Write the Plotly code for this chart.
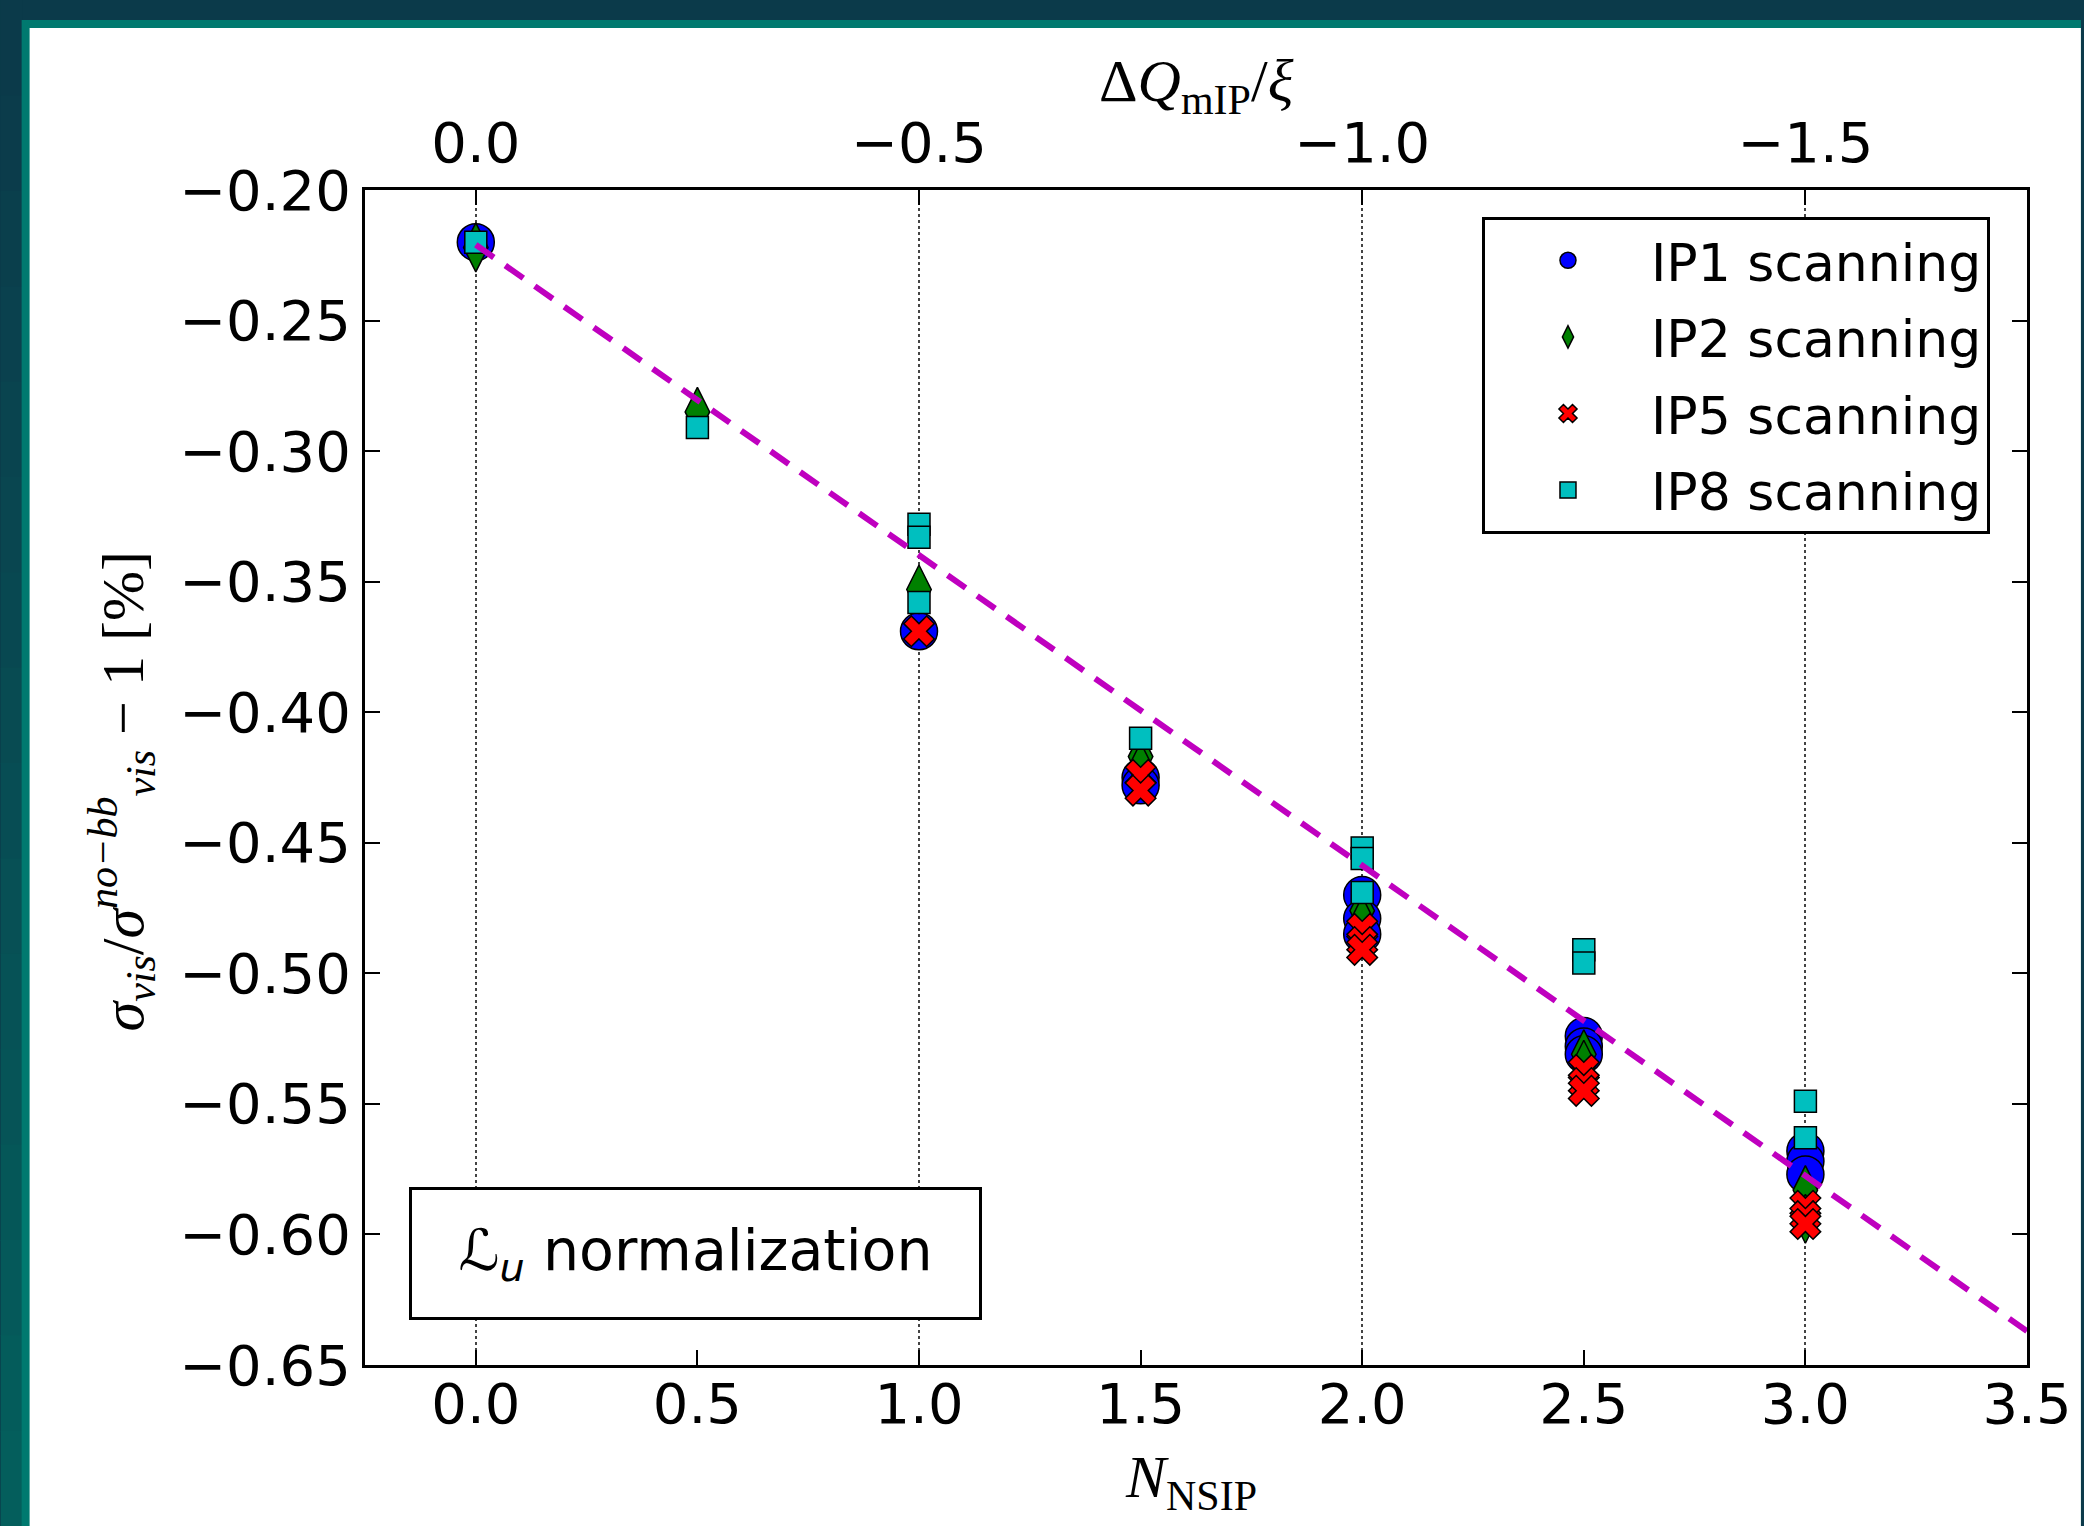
import plotly.graph_objects as go

# relative change sigma_vis / sigma_vis(no-bb) - 1 [%] versus number of non-scanning IPs
ip1_x = [0.0, 1.0, 1.5, 1.5, 2.0, 2.0, 2.0, 2.5, 2.5, 2.5, 3.0, 3.0, 3.0]
ip1_y = [-0.220, -0.369, -0.425, -0.428, -0.470, -0.479, -0.485, -0.524, -0.528, -0.531, -0.568, -0.572, -0.577]

ip2_x = [0.0, 0.5, 1.0, 1.5, 1.5, 2.0, 2.0, 2.5, 2.5, 3.0, 3.0]
ip2_y = [-0.222, -0.285, -0.353, -0.417, -0.421, -0.476, -0.480, -0.531, -0.535, -0.583, -0.594]

ip5_x = [1.0, 1.5, 1.5, 2.0, 2.0, 2.0, 2.5, 2.5, 2.5, 3.0, 3.0, 3.0]
ip5_y = [-0.369, -0.424, -0.430, -0.483, -0.488, -0.491, -0.537, -0.542, -0.545, -0.589, -0.593, -0.596]

ip8_x = [0.0, 0.5, 1.0, 1.0, 1.0, 1.5, 2.0, 2.0, 2.0, 2.5, 2.5, 3.0, 3.0]
ip8_y = [-0.220, -0.291, -0.328, -0.333, -0.358, -0.410, -0.452, -0.456, -0.469, -0.491, -0.496, -0.549, -0.563]

fit_x = [0.0, 3.5]
fit_y = [-0.221, -0.637]

W, H = 2084, 1526
L, R, T, B = 365, 54, 190, 161


def px(x):
    return (x - L) / (W - L - R)


def py(y):
    return 1 - (y - T) / (H - T - B)


fig = go.Figure()

series = [
    ("IP1 scanning", ip1_x, ip1_y, "circle", 37, "#0000ff"),
    ("IP2 scanning", ip2_x, ip2_y, "diamond-tall", 35, "#008000"),
    ("IP5 scanning", ip5_x, ip5_y, "x", 27, "#ff0000"),
    ("IP8 scanning", ip8_x, ip8_y, "square", 22, "#00bfbf"),
]
for name, xs, ys, sym, size, col in series:
    fig.add_trace(go.Scatter(
        x=xs, y=ys, mode="markers", name=name, legendgroup=name,
        marker=dict(symbol=sym, size=size, color=col, line=dict(color="black", width=1.5)),
    ))

fig.add_trace(go.Scatter(x=fit_x, y=fit_y, mode="lines", showlegend=False,
                         line=dict(color="#bf00bf", width=6, dash="22px,14px")))
# carries the top (Delta Q) axis
fig.add_trace(go.Scatter(x=[None], y=[None], xaxis="x2", showlegend=False, hoverinfo="skip"))

tickfont = dict(family="DejaVu Sans", size=56, color="black")
fig.update_layout(
    width=W, height=H,
    margin=dict(l=L, r=R, t=T, b=B),
    paper_bgcolor="#0b3a4a", plot_bgcolor="white",
    xaxis=dict(range=[-0.25, 3.5], dtick=0.5, tick0=0, tickformat=".1f",
               ticks="inside", ticklen=15, tickwidth=1.5, tickcolor="black",
               showline=True, linecolor="black", linewidth=3, mirror=True,
               showgrid=False, zeroline=False, tickfont=tickfont, ticklabelstandoff=-12),
    xaxis2=dict(overlaying="x", side="top", range=[0.125, -1.75], dtick=0.5, tick0=0,
                tickformat=".1f", ticks="inside", ticklen=15, tickwidth=1.5, tickcolor="black",
                showgrid=True, gridcolor="#444444", gridwidth=1.5, griddash="dot",
                zeroline=False, showline=False, tickfont=tickfont, ticklabelstandoff=16),
    yaxis=dict(range=[-0.65, -0.20], dtick=0.05, tick0=-0.2, tickformat=".2f",
               ticks="inside", ticklen=15, tickwidth=1.5, tickcolor="black",
               showline=True, linecolor="black", linewidth=3, mirror="ticks",
               showgrid=False, zeroline=False, tickfont=tickfont, ticklabelstandoff=0),
    legend=dict(x=px(1484), y=py(217), xanchor="left", yanchor="top",
                bgcolor="white", bordercolor="black", borderwidth=3,
                font=dict(family="DejaVu Sans", size=52, color="black"),
                itemwidth=156, tracegroupgap=6),
    showlegend=True,
)

# slide frame behind the figure
shapes = []
top_c, bot_c = (11, 58, 74), (4, 94, 92)
nb = 16
for i in range(nb):
    f = i / (nb - 1)
    c = tuple(round(a + (b - a) * f) for a, b in zip(top_c, bot_c))
    shapes.append(dict(type="rect", xref="paper", yref="paper", layer="below",
                       x0=px(0), x1=px(22), y0=py(H * i / nb), y1=py(H * (i + 1) / nb + 1),
                       fillcolor="rgb(%d,%d,%d)" % c, line_width=0))
shapes.append(dict(type="rect", xref="paper", yref="paper", layer="below",
                   x0=px(21), x1=px(W), y0=py(20), y1=py(H), fillcolor="#00796f", line_width=0))
shapes.append(dict(type="rect", xref="paper", yref="paper", layer="below",
                   x0=px(29), x1=px(W), y0=py(28), y1=py(H), fillcolor="white", line_width=0))
fig.update_layout(shapes=shapes)

serif = dict(family="Liberation Serif", size=60, color="black")
fig.add_annotation(xref="paper", yref="paper", x=0.5, y=py(86), xanchor="center", yanchor="middle",
                   showarrow=False, text="Δ<i>Q</i><sub>mIP</sub>/<i>ξ</i>", font=serif)
fig.add_annotation(xref="paper", yref="paper", x=0.497, y=py(1482), xanchor="center", yanchor="middle",
                   showarrow=False, text="<i>N</i><sub>NSIP</sub>", font=serif)
fig.add_annotation(xref="paper", yref="paper", x=px(122), y=py(791), xanchor="center", yanchor="middle",
                   showarrow=False, textangle=-90,
                   text="<i>σ<sub>vis</sub></i>/<i>σ<sup>no−bb</sup><sub>vis</sub></i> − 1 [%]",
                   font=serif)
fig.add_annotation(xref="paper", yref="paper", x=px(696), y=py(1253), xanchor="center", yanchor="middle",
                   showarrow=False, text="<i>ℒ<sub>u</sub></i> normalization",
                   font=dict(family="DejaVu Sans", size=57, color="black"),
                   bgcolor="white", bordercolor="black", borderwidth=3, borderpad=26,
                   width=515, height=75)

fig.write_html("out.html", config={"displayModeBar": False},
               post_script="document.body.style.margin='0';")
